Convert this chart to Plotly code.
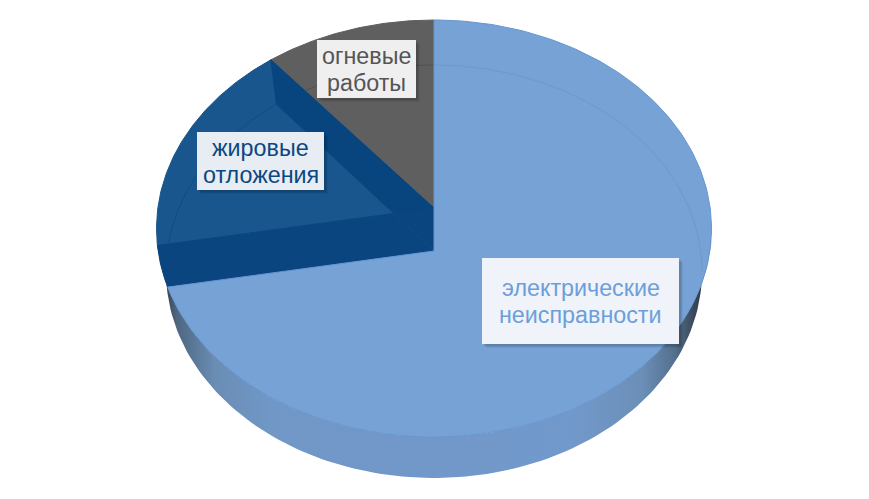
"""
3D-looking pie chart: causes of fires, drawn on pixel-sized cartesian axes.
"""
import numpy as np
import plotly.graph_objects as go

# Data
categories = ["электрические<br>неисправности", "жировые<br>отложения", "огневые<br>работы"]
values = [73.7, 16.3, 10]
slice_colors = ["#76A2D5", "#19568E", "#5F5F5F"]
label_colors = ["#6C9FD9", "#0B4782", "#555555"]
label_backs = ["#F0F3FA", "#E8EDF3", "#EFEFEF"]
label_boxes = [(482, 258, 679, 344), (197, 132, 324, 190), (317, 40, 416, 98)]

# Ellipses of the top and bottom faces, in pixels
TOP = dict(cx=434.0, cy=228.5, rx=277.5, ry=208.5)
BOTTOM = dict(cx=434.0, cy=271.5, rx=268.0, ry=206.5)
APEX_TOP = (434.0, 208.0)
APEX_LOW = (434.0, 251.0)
LINE_GAP = 27


def ellipse_xy(e, deg_from, deg_to, n=120):
    """Points along an ellipse, angle clockwise from 12 o'clock."""
    t = np.radians(np.linspace(deg_from, deg_to, n))
    return e["cx"] + e["rx"] * np.sin(t), e["cy"] - e["ry"] * np.cos(t)


def clip_angle(e, start, target):
    """Angle where the ray from start, parallel to apex->target, meets the ellipse."""
    dx, dy = target[0] - APEX_TOP[0], target[1] - APEX_TOP[1]
    px, py = (start[0] - e["cx"]) / e["rx"], (start[1] - e["cy"]) / e["ry"]
    qx, qy = dx / e["rx"], dy / e["ry"]
    a, b, c = qx * qx + qy * qy, 2 * (px * qx + py * qy), px * px + py * py - 1
    s = (-b + np.sqrt(b * b - 4 * a * c)) / (2 * a)
    x, y = px + s * qx, py + s * qy
    return np.degrees(np.arctan2(x, -y)) % 360


shares = np.array(values) / sum(values) * 360
end_light = shares[0]
end_dark = shares[0] + shares[1]

fig = go.Figure()


def add_poly(xs, ys, color, name, line=None):
    fig.add_trace(go.Scatter(
        x=list(xs), y=list(ys), mode="lines", fill="toself", fillcolor=color,
        line=dict(color=line or color, width=1), name=name, hoverinfo="name"
    ))


def add_line(xs, ys, color):
    fig.add_trace(go.Scatter(
        x=list(xs), y=list(ys), mode="lines", line=dict(color=color, width=1), hoverinfo="skip"
    ))


# Side wall with horizontal gradient
bx, by = ellipse_xy(BOTTOM, 90, 270)
tx, ty = ellipse_xy(TOP, 270, 90)
fig.add_trace(go.Scatter(
    x=list(bx) + list(tx), y=list(by) + list(ty), mode="lines", fill="toself",
    line=dict(width=0, color="rgba(0,0,0,0)"), hoverinfo="skip",
    fillgradient=dict(
        type="horizontal", start=160, stop=708,
        colorscale=[[0, "#2B3038"], [0.03, "#4E6680"], [0.1, "#6A8DB4"], [0.2, "#7097C6"],
                    [0.75, "#7299CB"], [0.88, "#6B8FB8"], [0.94, "#536F8C"], [1, "#262C34"]]
    )
))

# Fire slice
x, y = ellipse_xy(TOP, end_dark, 360)
add_poly([APEX_TOP[0], *x], [APEX_TOP[1], *y], slice_colors[2], categories[2])

# Fat slice and its inner walls
x, y = ellipse_xy(TOP, end_light, end_dark)
add_poly([APEX_TOP[0], *x], [APEX_TOP[1], *y], slice_colors[1], categories[1])

far_top = ellipse_xy(TOP, end_dark, end_dark, 1)
far_low = ellipse_xy(BOTTOM, end_dark, end_dark, 1)
add_poly([APEX_TOP[0], far_top[0][0], far_low[0][0], APEX_LOW[0]],
         [APEX_TOP[1], far_top[1][0], far_low[1][0], APEX_LOW[1]], "#08457E", "стенка")

near_top = ellipse_xy(TOP, end_light, end_light, 1)
end_clip = clip_angle(TOP, APEX_LOW, (near_top[0][0], near_top[1][0]))
x, y = ellipse_xy(TOP, end_light, end_clip, 30)
add_poly([APEX_TOP[0], *x, APEX_LOW[0]], [APEX_TOP[1], *y, APEX_LOW[1]], "#0A4580", "стенка")

# Faint outline of the bottom face showing through
x, y = ellipse_xy(BOTTOM, 278, end_dark)
add_line(x, y, "#0F4C85")
add_line([far_low[0][0], APEX_LOW[0]], [far_low[1][0], APEX_LOW[1]], "#0F4C85")
x, y = ellipse_xy(BOTTOM, end_dark, 360)
slope = (far_top[1][0] - APEX_TOP[1]) / (far_top[0][0] - APEX_TOP[0])
above = y < APEX_TOP[1] + slope * (x - APEX_TOP[0])
add_line(x[above], y[above], "#515151")

# Electrical slice on top
x, y = ellipse_xy(TOP, 0, end_clip, 240)
add_poly([APEX_LOW[0], *x, APEX_LOW[0]], [APEX_LOW[1], *y, APEX_LOW[1]], slice_colors[0], categories[0], line="#6596D2")
x, y = ellipse_xy(BOTTOM, 0, 90)
add_line(x, y, "#6C9ACF")

# Labels with soft shadow
shapes = []
for (x0, y0, x1, y1) in label_boxes:
    for off, alpha in ((4, 0.05), (3, 0.07), (2, 0.09)):
        shapes.append(dict(type="rect", x0=x0 + off, y0=y0 + off, x1=x1 + off, y1=y1 + off,
                           xref="x", yref="y", fillcolor=f"rgba(0,0,0,{alpha})", line_width=0))
for (x0, y0, x1, y1), back in zip(label_boxes, label_backs):
    shapes.append(dict(type="rect", x0=x0, y0=y0, x1=x1, y1=y1, xref="x", yref="y",
                       fillcolor=back, line_width=0))

for cat, (x0, y0, x1, y1), color in zip(categories, label_boxes, label_colors):
    first, second = cat.split("<br>")
    for part, shift in ((first, -LINE_GAP / 2), (second, LINE_GAP / 2)):
        fig.add_annotation(
            x=(x0 + x1) / 2, y=(y0 + y1) / 2 + shift, text=part, showarrow=False,
            font=dict(family="Liberation Sans", size=23.3, color=color), align="center"
        )

fig.update_layout(
    width=869, height=499, margin=dict(l=0, r=0, t=0, b=0),
    paper_bgcolor="white", plot_bgcolor="white", showlegend=False, shapes=shapes,
    xaxis=dict(range=[0, 869], visible=False, fixedrange=True),
    yaxis=dict(range=[499, 0], visible=False, fixedrange=True),
)

fig.write_html("out.html", config=dict(displayModeBar=False),
               post_script="document.body.style.margin='0';")
